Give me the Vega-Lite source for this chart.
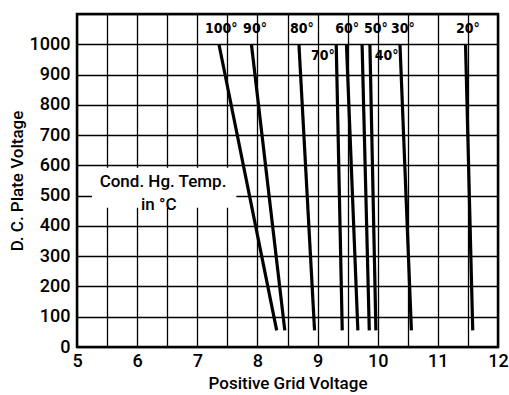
{
  "$schema": "https://vega.github.io/schema/vega-lite/v6.json",
  "width": 421,
  "height": 333,
  "autosize": {"type": "none"},
  "padding": {"left": 77, "top": 14, "right": 11, "bottom": 48},
  "background": "white",
  "config": {
    "view": {"stroke": "black", "strokeWidth": 2.5},
    "font": "Roboto"
  },
  "encoding": {
    "x": {
      "field": "x", "type": "quantitative",
      "scale": {"domain": [5, 12], "nice": false, "zero": false},
      "axis": {
        "values": [5, 5.5, 6, 6.5, 7, 7.5, 8, 8.5, 9, 9.5, 10, 10.5, 11, 11.5, 12],
        "labelExpr": "datum.value % 1 == 0 ? format(datum.value, 'd') : ''",
        "grid": true, "gridColor": "black", "gridOpacity": 1, "gridWidth": 1.3,
        "ticks": false, "domain": false,
        "labelFontSize": 18, "labelFontWeight": 500, "labelColor": "black", "labelPadding": 5,
        "labelFlush": false,
        "title": "Positive Grid Voltage", "titleFontSize": 17, "titleFontWeight": 500,
        "titleColor": "black", "titlePadding": 5
      }
    },
    "y": {
      "field": "y", "type": "quantitative",
      "scale": {"domain": [0, 1100], "nice": false},
      "axis": {
        "values": [0, 100, 200, 300, 400, 500, 600, 700, 800, 900, 1000, 1100],
        "labelExpr": "datum.value == 1100 ? '' : format(datum.value, 'd')",
        "grid": true, "gridColor": "black", "gridOpacity": 1, "gridWidth": 1.3,
        "ticks": false, "domain": false,
        "labelFontSize": 18, "labelFontWeight": 500, "labelColor": "black", "labelPadding": 7,
        "labelFlush": false,
        "title": "D. C. Plate Voltage", "titleFontSize": 17, "titleFontWeight": 500,
        "titleColor": "black", "titlePadding": 3
      }
    }
  },
  "layer": [
    {
      "data": {"values": [{"x": 5.25, "xe": 7.65, "y": 460, "ye": 592}]},
      "mark": {"type": "rect", "fill": "white"},
      "encoding": {"x2": {"field": "xe"}, "y2": {"field": "ye"}}
    },
    {
      "data": {"values": [
        {"t": "100", "x": 7.36, "y": 1000}, {"t": "100", "x": 8.32, "y": 55},
        {"t": "90", "x": 7.9, "y": 1000}, {"t": "90", "x": 8.455, "y": 55},
        {"t": "80", "x": 8.69, "y": 1000}, {"t": "80", "x": 8.95, "y": 55},
        {"t": "70", "x": 9.31, "y": 1000}, {"t": "70", "x": 9.41, "y": 55},
        {"t": "60", "x": 9.48, "y": 1000}, {"t": "60", "x": 9.67, "y": 55},
        {"t": "50", "x": 9.74, "y": 1000}, {"t": "50", "x": 9.86, "y": 55},
        {"t": "40", "x": 9.87, "y": 1000}, {"t": "40", "x": 9.97, "y": 55},
        {"t": "30", "x": 10.37, "y": 1000}, {"t": "30", "x": 10.56, "y": 55},
        {"t": "20", "x": 11.46, "y": 1000}, {"t": "20", "x": 11.58, "y": 55}
      ]},
      "mark": {"type": "line", "color": "black", "strokeWidth": 3.2},
      "encoding": {"detail": {"field": "t"}}
    },
    {
      "data": {"values": [
        {"label": "100°", "x": 7.4, "y": 1050},
        {"label": "90°", "x": 7.96, "y": 1050},
        {"label": "80°", "x": 8.74, "y": 1050},
        {"label": "70°", "x": 9.09, "y": 960},
        {"label": "60°", "x": 9.49, "y": 1050},
        {"label": "50°", "x": 9.97, "y": 1050},
        {"label": "40°", "x": 10.15, "y": 960},
        {"label": "30°", "x": 10.42, "y": 1050},
        {"label": "20°", "x": 11.5, "y": 1050}
      ]},
      "mark": {"type": "text", "font": "DejaVu Sans Condensed", "fontWeight": "bold", "fontSize": 14, "color": "black", "align": "center", "baseline": "middle"},
      "encoding": {"text": {"field": "label"}}
    },
    {
      "data": {"values": [
        {"label": "Cond. Hg. Temp.", "x": 6.43, "y": 545},
        {"label": "in °C", "x": 6.36, "y": 470}
      ]},
      "mark": {"type": "text", "fontSize": 17, "fontWeight": 500, "color": "black", "align": "center", "baseline": "middle"},
      "encoding": {"text": {"field": "label"}}
    }
  ]
}
